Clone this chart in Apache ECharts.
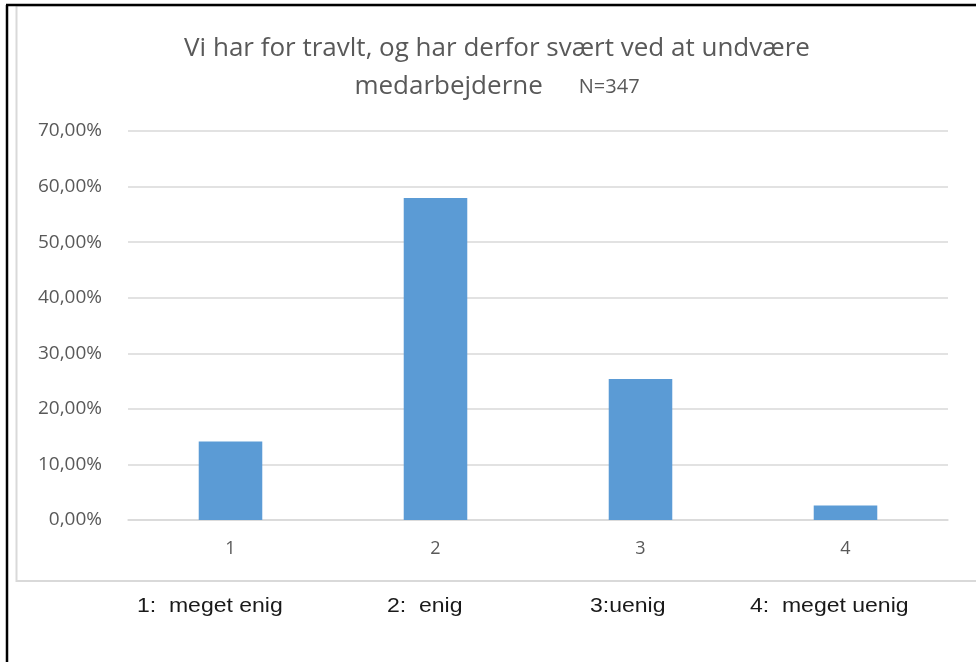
<!DOCTYPE html>
<html>
<head>
<meta charset="utf-8">
<script src="https://cdn.jsdelivr.net/npm/echarts@6/dist/echarts.min.js"></script>
<style>
html,body{margin:0;padding:0;background:#fff;}
#chart{width:976px;height:662px;}
</style>
</head>
<body>
<div id="chart"></div>
<script>
const categories = ['1', '2', '3', '4'];
const values = [14.12, 57.93, 25.36, 2.59];
const yTicks = { min: 0, max: 70, interval: 10 };
const titleLine1 = 'Vi har for travlt, og har derfor svært ved at undvære';
const titleLine2 = 'medarbejderne';
const titleN = 'N=347';
const legendTexts = ['1:  meget enig', '2:  enig', '3:uenig', '4:  meget uenig'];

const chart = echarts.init(document.getElementById('chart'));
const legendX = [137, 387, 590, 750];
chart.setOption({
  animation: false,
  backgroundColor: '#fff',
  title: {
    text: '{a|' + titleLine1 + '}\n{a|' + titleLine2 + '}{gap|}{n|' + titleN + '}',
    left: 492,
    textAlign: 'center',
    top: 25,
    textStyle: {
      fontWeight: 'normal',
      rich: {
        a: { fontFamily: 'Open Sans', fontSize: 26, fontWeight: 'normal', color: '#595959', lineHeight: 38 },
        gap: { width: 36 },
        n: { fontFamily: 'Open Sans', fontSize: 20, fontWeight: 'normal', color: '#595959', lineHeight: 38 }
      }
    }
  },
  grid: { left: 128, right: 28, top: 131, bottom: 142, containLabel: false },
  xAxis: {
    type: 'category',
    data: categories,
    axisLine: { lineStyle: { color: '#d9d9d9', width: 1.5 } },
    axisTick: { show: false },
    axisLabel: { color: '#595959', fontFamily: 'Open Sans', fontSize: 18, margin: 20 }
  },
  yAxis: {
    type: 'value',
    min: yTicks.min, max: yTicks.max, interval: yTicks.interval,
    axisLine: { show: false },
    axisTick: { show: false },
    splitLine: { lineStyle: { color: '#d9d9d9', width: 1.5 } },
    axisLabel: {
      color: '#595959', fontFamily: 'Open Sans', fontSize: 19, margin: 26,
      formatter: v => v.toFixed(2).replace('.', ',') + '%'
    }
  },
  series: [{
    type: 'bar',
    data: values,
    barWidth: '31%',
    itemStyle: { color: '#5b9bd5' }
  }],
  graphic: [
    { type: 'rect', shape: { x: 16.5, y: 5.5, width: 970, height: 575.5 }, style: { fill: 'none', stroke: '#d9d9d9', lineWidth: 2 } },
    { type: 'line', shape: { x1: 7, y1: 5, x2: 7, y2: 662 }, style: { stroke: '#000', lineWidth: 2.5 } },
    { type: 'line', shape: { x1: 6, y1: 5, x2: 976, y2: 5 }, style: { stroke: '#000', lineWidth: 2.5 } }
  ].concat(legendTexts.map((t, i) => ({
    type: 'text', x: legendX[i], y: 596, scaleX: 1.15,
    style: { text: t, fill: '#1a1a1a', font: '20px "Liberation Sans", Arial, sans-serif' }
  })))
});
</script>
</body>
</html>
